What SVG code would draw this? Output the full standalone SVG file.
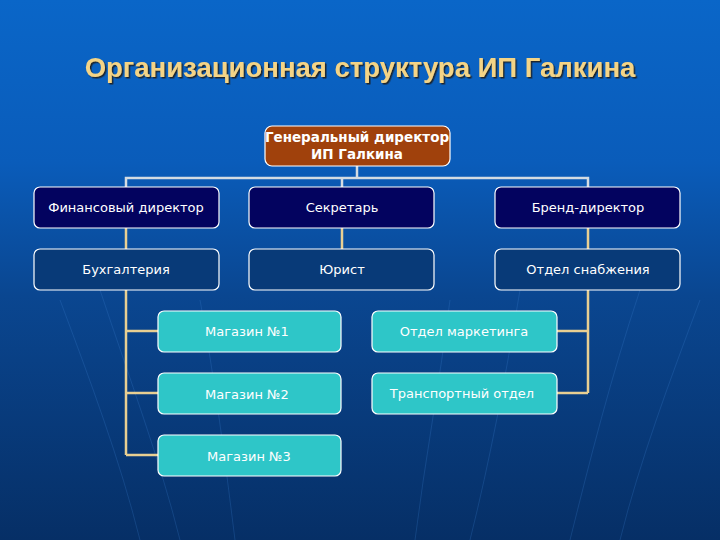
<svg xmlns="http://www.w3.org/2000/svg" width="720" height="540" viewBox="0 0 720 540">
<defs>
<linearGradient id="bg" x1="0" y1="0" x2="0" y2="1">
<stop offset="0" stop-color="#0a66c8"/>
<stop offset="0.3" stop-color="#0a5cba"/>
<stop offset="0.55" stop-color="#0a4690"/>
<stop offset="1" stop-color="#062f66"/>
</linearGradient>
<filter id="sh" x="-5%" y="-20%" width="110%" height="150%">
<feDropShadow dx="1.5" dy="1.5" stdDeviation="0.6" flood-color="#1a1a1a" flood-opacity="0.9"/>
</filter>
</defs>
<style>
.box{stroke:#ffffff;stroke-width:1.2}
.gen{fill:#a0410c}
.nav{fill:#03035f}
.dk{fill:#083a78}
.tl{fill:#2ec6c8}
.t{font-family:"DejaVu Sans",Verdana,sans-serif;font-size:13px;fill:#ffffff;text-anchor:middle}
.tb{font-family:"DejaVu Sans",Verdana,sans-serif;font-size:13.5px;font-weight:bold;fill:#ffffff;text-anchor:middle}
.c1{stroke:#d4dbe2;stroke-width:2.5;fill:none}
.c2{stroke:#e8cf92;stroke-width:2.5;fill:none}
.bgl{stroke:#3a7ed0;stroke-width:1;fill:none;opacity:0.25}
</style>
<rect x="0" y="0" width="720" height="540" fill="url(#bg)"/>
<g id="background-lines">
<path class="bgl" d="M60 300 C90 380 120 460 140 540"/>
<path class="bgl" d="M100 290 C130 380 160 460 180 540"/>
<path class="bgl" d="M200 300 C215 380 225 460 235 540"/>
<path class="bgl" d="M450 300 C440 380 425 460 415 540"/>
<path class="bgl" d="M520 290 C505 380 490 460 470 540"/>
<path class="bgl" d="M640 290 C610 380 590 460 570 540"/>
<path class="bgl" d="M700 300 C670 380 640 460 620 540"/>
</g>
<text x="360" y="77" font-family="'Liberation Sans',Arial,sans-serif" font-size="27.5" font-weight="bold" fill="#f4d486" text-anchor="middle" filter="url(#sh)">Организационная структура ИП Галкина</text>
<g id="connectors">
<path class="c1" d="M357 166 V178 M126 187 V178 H588 V187 M342 178 V187"/>
<path class="c2" d="M126 228 V249 M342 228 V249 M588 228 V249"/>
<path class="c2" d="M126 290 V455 M126 331 H158 M126 393 H158 M126 455 H158"/>
<path class="c2" d="M588 290 V393 M557 331 H588 M557 393 H588"/>
</g>
<g id="gen-director">
<rect class="box gen" x="265" y="126" width="185" height="40" rx="7"/>
<text class="tb" x="357" y="142">Генеральный директор</text>
<text class="tb" x="357" y="159">ИП Галкина</text>
</g>
<g id="fin-director">
<rect class="box nav" x="34" y="187" width="185" height="41" rx="6"/>
<text class="t" x="126" y="212">Финансовый директор</text>
</g>
<g id="secretary">
<rect class="box nav" x="249" y="187" width="185" height="41" rx="6"/>
<text class="t" x="342" y="212">Секретарь</text>
</g>
<g id="brand-director">
<rect class="box nav" x="495" y="187" width="185" height="41" rx="6"/>
<text class="t" x="588" y="212">Бренд-директор</text>
</g>
<g id="accounting">
<rect class="box dk" x="34" y="249" width="185" height="41" rx="6"/>
<text class="t" x="126" y="274">Бухгалтерия</text>
</g>
<g id="lawyer">
<rect class="box dk" x="249" y="249" width="185" height="41" rx="6"/>
<text class="t" x="342" y="274">Юрист</text>
</g>
<g id="supply">
<rect class="box dk" x="495" y="249" width="185" height="41" rx="6"/>
<text class="t" x="588" y="274">Отдел снабжения</text>
</g>
<g id="shop1">
<rect class="box tl" x="158" y="311" width="183" height="41" rx="6"/>
<text class="t" x="247" y="336">Магазин №1</text>
</g>
<g id="shop2">
<rect class="box tl" x="158" y="373" width="183" height="41" rx="6"/>
<text class="t" x="247" y="399">Магазин №2</text>
</g>
<g id="shop3">
<rect class="box tl" x="158" y="435" width="183" height="41" rx="6"/>
<text class="t" x="249" y="461">Магазин №3</text>
</g>
<g id="marketing">
<rect class="box tl" x="372" y="311" width="185" height="41" rx="6"/>
<text class="t" x="464" y="336">Отдел маркетинга</text>
</g>
<g id="transport">
<rect class="box tl" x="372" y="373" width="185" height="41" rx="6"/>
<text class="t" x="462" y="398">Транспортный отдел</text>
</g>
</svg>
